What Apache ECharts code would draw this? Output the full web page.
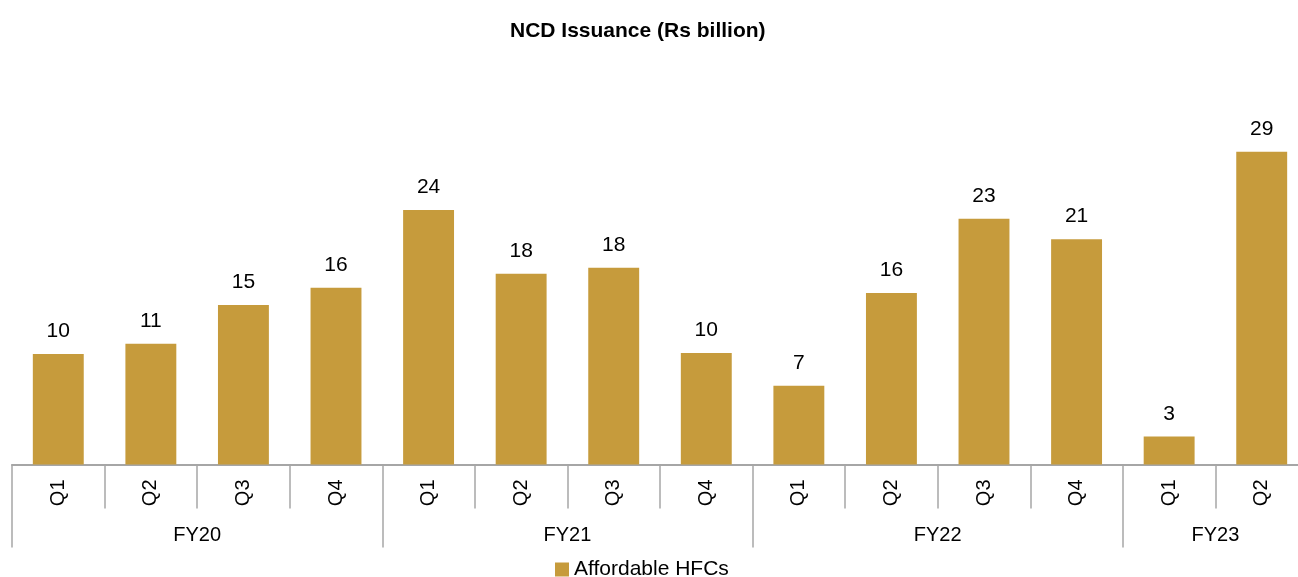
<!DOCTYPE html>
<html>
<head>
<meta charset="utf-8">
<title>NCD Issuance</title>
<script src="https://cdn.jsdelivr.net/npm/echarts@6/dist/echarts.min.js"></script>
<style>
  html, body { margin: 0; padding: 0; background: #ffffff; }
  #chart { width: 1298px; height: 577px; }
</style>
</head>
<body>
<div id="chart"></div>
<script>
// Quarter categories (lower tier of the axis)
const quarters = ['Q1', 'Q2', 'Q3', 'Q4', 'Q1', 'Q2', 'Q3', 'Q4', 'Q1', 'Q2', 'Q3', 'Q4', 'Q1', 'Q2'];
// Fiscal-year groups and how many quarters each spans
const fiscalYears = ['FY20', 'FY21', 'FY22', 'FY23'];
const quartersPerYear = [4, 4, 4, 2];
// NCD issuance by affordable HFCs, Rs billion
const seriesName = 'Affordable HFCs';
const issuance = [10.25, 11.2, 14.8, 16.4, 23.6, 17.7, 18.25, 10.35, 7.3, 15.9, 22.8, 20.9, 2.6, 29.0];

const FONT = '"Liberation Sans", Arial, sans-serif';
const GOLD = '#C69B3C';
const RULE = '#A6A6A6';

// Build the year tier on a 15-point edge axis: labels sit on the group centres,
// separators sit on the group boundaries.
const edgeCount = quarters.length + 1;
const yearTier = new Array(edgeCount).fill('');
const yearEdges = new Set([0]);
let pos = 0;
fiscalYears.forEach((fy, i) => {
  const span = quartersPerYear[i];
  const mid = pos + span / 2;
  if (Number.isInteger(mid)) yearTier[mid] = fy;
  pos += span;
  yearEdges.add(pos);
});

const chart = echarts.init(document.getElementById('chart'), null, { renderer: 'canvas' });

chart.setOption({
  animation: false,
  backgroundColor: '#ffffff',
  textStyle: { fontFamily: FONT },
  title: {
    text: 'NCD Issuance (Rs billion)',
    left: 505,
    top: 16,
    textStyle: { fontFamily: FONT, fontSize: 21, fontWeight: 'bold', color: '#000000' }
  },
  legend: {
    data: [seriesName],
    left: 555,
    top: 559,
    padding: 0,
    icon: 'rect',
    itemWidth: 14,
    itemHeight: 14,
    itemGap: 6,
    textStyle: { fontFamily: FONT, fontSize: 21, color: '#000000' }
  },
  grid: {
    left: 12,
    top: 141,
    width: 1296,
    height: 323.5,
    containLabel: false,
    outerBoundsMode: 'none'
  },
  xAxis: [
    {
      type: 'category',
      data: quarters,
      boundaryGap: true,
      axisLine: { show: true, lineStyle: { color: RULE, width: 2 } },
      axisTick: { show: true, length: 44, interval: 0, lineStyle: { color: RULE, width: 1.5 } },
      axisLabel: {
        interval: 0,
        rotate: 90,
        margin: 15,
        fontFamily: FONT,
        fontSize: 20,
        color: '#000000'
      },
      splitLine: { show: false }
    },
    {
      type: 'category',
      position: 'bottom',
      data: yearTier,
      boundaryGap: false,
      axisLine: { show: false },
      axisTick: {
        show: true,
        length: 83,
        interval: (index) => yearEdges.has(index),
        lineStyle: { color: RULE, width: 1.5 }
      },
      axisLabel: {
        interval: 0,
        margin: 61,
        fontFamily: FONT,
        fontSize: 20,
        color: '#000000'
      },
      splitLine: { show: false }
    }
  ],
  yAxis: {
    type: 'value',
    min: 0,
    max: 30,
    show: false,
    splitLine: { show: false }
  },
  series: [
    {
      name: seriesName,
      type: 'bar',
      xAxisIndex: 0,
      data: issuance,
      barWidth: '55%',
      itemStyle: { color: GOLD },
      label: {
        show: true,
        position: 'top',
        distance: 12,
        fontFamily: FONT,
        fontSize: 21,
        color: '#000000',
        formatter: (p) => Math.round(p.value).toString()
      }
    }
  ]
});
</script>
</body>
</html>
